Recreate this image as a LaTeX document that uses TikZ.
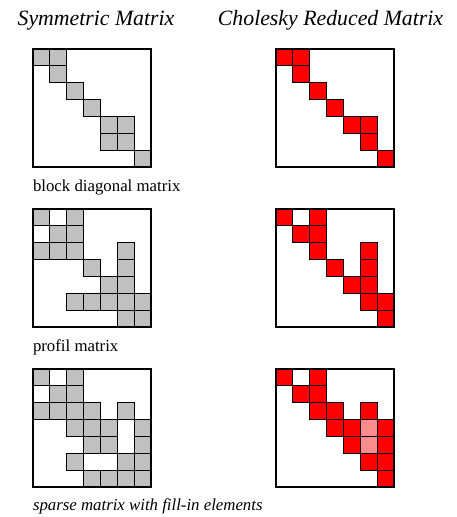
\documentclass[tikz,border=0pt]{standalone}
\usepackage{fontspec}
\setmainfont{Liberation Serif}
\usetikzlibrary{positioning}
\definecolor{cellgray}{RGB}{192,192,192}
\definecolor{cellred}{RGB}{255,0,0}
\definecolor{cellfill}{RGB}{255,140,140}
\newcommand{\cs}{16.857}

\begin{document}
\begin{tikzpicture}[
  x=1pt, y=-1pt,
  every node/.style={inner sep=0pt, outer sep=0pt},
  title/.style={font=\fontsize{21.8}{26}\selectfont\itshape, anchor=base},
  caption/.style={font=\fontsize{16.8}{20}\selectfont, anchor=base west},
  frame/.style={draw=black, line width=1.3pt},
  graycell/.style={draw=black, fill=cellgray, line width=1.2pt},
  redcell/.style={draw=black, fill=cellred, line width=1.2pt},
  fillcell/.style={draw=black, fill=cellfill, line width=1.2pt}
]
\useasboundingbox (0,0) rectangle (457,517);

% column titles
\node[title] (symtitle) at (96,25) {Symmetric Matrix};
\node[title] (choltitle) at (330.5,25) {Cholesky Reduced Matrix};

% block diagonal matrix
\begin{scope}[shift={(33,49)}]
  \foreach \r/\c in {0/0,0/1,1/1,2/2,3/3,4/4,4/5,5/4,5/5,6/6}
    \draw[graycell] (\c*\cs,\r*\cs) rectangle ++(\cs,\cs);
  \draw[frame] (0,0) rectangle (7*\cs,7*\cs);
\end{scope}
\begin{scope}[shift={(276,49)}]
  \foreach \r/\c in {0/0,0/1,1/1,2/2,3/3,4/4,4/5,5/5,6/6}
    \draw[redcell] (\c*\cs,\r*\cs) rectangle ++(\cs,\cs);
  \draw[frame] (0,0) rectangle (7*\cs,7*\cs);
\end{scope}
\node[caption] (blockcap) at (33,191) {block diagonal matrix};

% profil matrix
\begin{scope}[shift={(33,209)}]
  \foreach \r/\c in {0/0,0/2,1/1,1/2,2/0,2/1,2/2,2/5,3/3,3/5,4/4,4/5,
                     5/2,5/3,5/4,5/5,5/6,6/5,6/6}
    \draw[graycell] (\c*\cs,\r*\cs) rectangle ++(\cs,\cs);
  \draw[frame] (0,0) rectangle (7*\cs,7*\cs);
\end{scope}
\begin{scope}[shift={(276,209)}]
  \foreach \r/\c in {0/0,0/2,1/1,1/2,2/2,2/5,3/3,3/5,4/4,4/5,5/5,5/6,6/6}
    \draw[redcell] (\c*\cs,\r*\cs) rectangle ++(\cs,\cs);
  \draw[frame] (0,0) rectangle (7*\cs,7*\cs);
\end{scope}
\node[caption] (profcap) at (33,351) {profil matrix};

% sparse matrix
\begin{scope}[shift={(33,369)}]
  \foreach \r/\c in {0/0,0/2,1/1,1/2,2/0,2/1,2/2,2/3,2/5,3/2,3/3,3/4,3/6,
                     4/3,4/4,4/6,5/2,5/5,5/6,6/3,6/4,6/5,6/6}
    \draw[graycell] (\c*\cs,\r*\cs) rectangle ++(\cs,\cs);
  \draw[frame] (0,0) rectangle (7*\cs,7*\cs);
\end{scope}
\begin{scope}[shift={(276,369)}]
  \foreach \r/\c in {0/0,0/2,1/1,1/2,2/2,2/3,2/5,3/3,3/4,3/6,4/4,4/6,5/5,5/6,6/6}
    \draw[redcell] (\c*\cs,\r*\cs) rectangle ++(\cs,\cs);
  \foreach \r/\c in {3/5,4/5}
    \draw[fillcell] (\c*\cs,\r*\cs) rectangle ++(\cs,\cs);
  \draw[frame] (0,0) rectangle (7*\cs,7*\cs);
\end{scope}
\node[caption, font=\fontsize{16.8}{20}\selectfont\itshape] (sparsecap) at (33,510)
  {sparse matrix with fill-in elements};

\end{tikzpicture}
\end{document}
